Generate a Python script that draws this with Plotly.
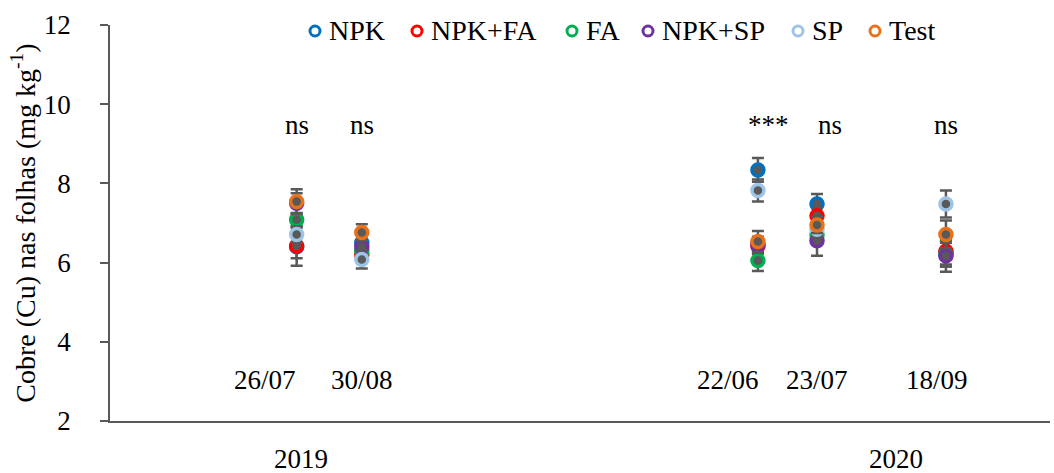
import plotly.graph_objects as go

# Sampling dates and their position along the horizontal axis
dates = ["26/07", "30/08", "22/06", "23/07", "18/09"]
sample_x = [2.78, 3.75, 9.65, 10.53, 12.45]
date_label_x = [2.31, 3.75, 9.2, 10.53, 12.32]

# Significance of treatment effect per sampling
signif = ["ns", "ns", "***", "ns", "ns"]
signif_x = [2.78, 3.75, 9.8, 10.72, 12.45]

years = ["2019", "2020"]
year_x = [2.85, 11.7]

treatments = ["NPK", "NPK+FA", "FA", "NPK+SP", "SP", "Test"]
colors = ["#0070C0", "#FF0000", "#00B050", "#7030A0", "#9DC3E6", "#E8711A"]

# Leaf copper content (mg kg-1) and standard errors
cu_npk = [6.40, 6.50, 8.34, 7.48, 6.25]
cu_npk_fa = [6.42, 6.20, 6.42, 7.18, 6.29]
cu_fa = [7.08, 6.30, 6.05, 6.70, 6.20]
cu_npk_sp = [7.50, 6.40, 6.45, 6.55, 6.17]
cu_sp = [6.71, 6.08, 7.82, 6.84, 7.48]
cu_test = [7.54, 6.76, 6.53, 6.95, 6.71]

err_npk = [0.48, 0.18, 0.30, 0.25, 0.30]
err_npk_fa = [0.31, 0.18, 0.20, 0.20, 0.39]
err_fa = [0.16, 0.18, 0.26, 0.20, 0.30]
err_npk_sp = [0.25, 0.18, 0.20, 0.38, 0.40]
err_sp = [0.20, 0.23, 0.28, 0.20, 0.34]
err_test = [0.31, 0.21, 0.27, 0.20, 0.35]

values = [cu_npk, cu_npk_fa, cu_fa, cu_npk_sp, cu_sp, cu_test]
errors = [err_npk, err_npk_fa, err_fa, err_npk_sp, err_sp, err_test]

FONT = "Liberation Serif, Times New Roman, serif"
GREY = "#595959"

W, H = 1054, 473
M_L, M_R, M_T, M_B = 110, 4, 25, 52
PLOT_W = W - M_L - M_R
PLOT_H = H - M_T - M_B

# Legend row: ring centres (px from the left edge) and row height
legend_px = [315, 417, 572, 648, 798, 875]
legend_py = 31


def serif(size):
    return dict(family=FONT, size=size, color="#000000")


fig = go.Figure()

for name, col, y, e in zip(treatments, colors, values, errors):
    fig.add_trace(go.Scatter(
        x=sample_x, y=y, mode="markers", name=name, showlegend=False,
        marker=dict(size=12, color=GREY, line=dict(color=col, width=3.5)),
        error_y=dict(type="data", array=e, visible=True, color=GREY,
                     thickness=2.5, width=6),
    ))

annotations = []
shapes = []

# Legend drawn as rings plus labels along the top edge
ly = 1 - (legend_py - M_T) / PLOT_H
for name, col, px in zip(treatments, colors, legend_px):
    lx = (px - M_L) / PLOT_W
    shapes.append(dict(type="circle", xref="paper", yref="paper",
                       xsizemode="pixel", ysizemode="pixel",
                       xanchor=lx, yanchor=ly, x0=-5, x1=5, y0=-5, y1=5,
                       line=dict(color=col, width=3), fillcolor="white"))
    annotations.append(dict(x=lx, y=ly, xref="paper", yref="paper",
                            text=name, showarrow=False, xanchor="left",
                            yanchor="middle", xshift=12, font=serif(28)))

for d, lx in zip(dates, date_label_x):
    annotations.append(dict(x=lx, y=3.04, text=d, showarrow=False,
                            xref="x", yref="y", font=serif(27)))
for s, sx in zip(signif, signif_x):
    annotations.append(dict(x=sx, y=9.47, text=s, showarrow=False,
                            xref="x", yref="y", font=serif(27)))
for yr, yx in zip(years, year_x):
    annotations.append(dict(x=yx, y=0, text=yr, showarrow=False,
                            xref="x", yref="paper", yanchor="middle",
                            yshift=-38, font=serif(27)))

fig.update_layout(
    width=W, height=H,
    margin=dict(l=M_L, r=M_R, t=M_T, b=M_B),
    paper_bgcolor="white", plot_bgcolor="white",
    font=serif(27),
    showlegend=False,
    xaxis=dict(range=[0, 14], showgrid=False, zeroline=False,
               showticklabels=False, ticks="", showline=True,
               linecolor=GREY, linewidth=1.5),
    yaxis=dict(range=[2, 12], dtick=2, showgrid=False, zeroline=False,
               ticks="outside", ticklen=8, tickwidth=1.5, tickcolor=GREY,
               showline=True, linecolor=GREY, linewidth=1.5,
               tickfont=serif(27), ticklabelstandoff=24,
               title=dict(text="Cobre (Cu) nas folhas (mg kg<sup>-1</sup>)",
                          font=serif(28), standoff=0)),
    annotations=annotations,
    shapes=shapes,
)

fig.write_html("out.html")
